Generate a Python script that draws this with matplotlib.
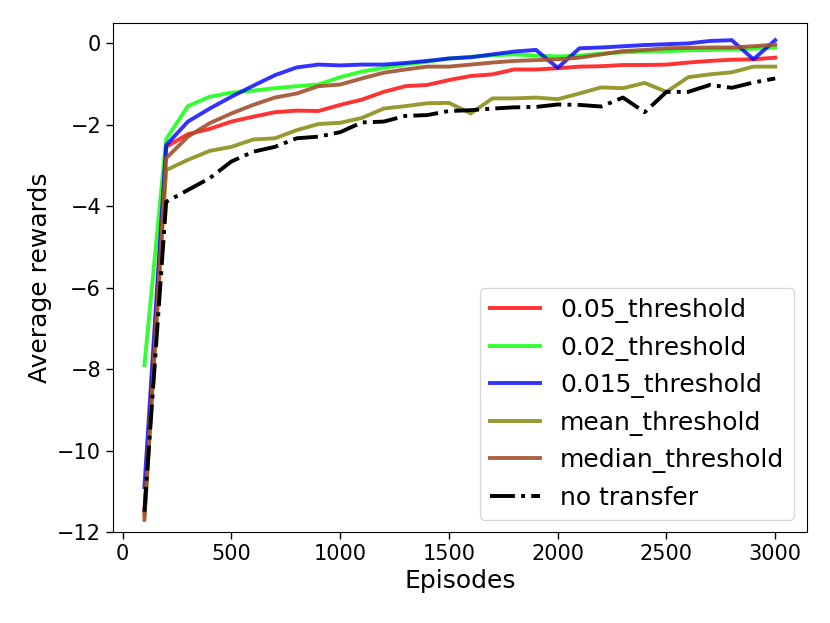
import matplotlib
matplotlib.use("Agg")
import matplotlib.pyplot as plt

episodes = list(range(100, 3001, 100))

r005 = [-11.5, -2.54, -2.23, -2.10, -1.92, -1.80, -1.69, -1.65, -1.66, -1.51,
        -1.38, -1.19, -1.05, -1.02, -0.90, -0.80, -0.76, -0.64, -0.64, -0.61,
        -0.57, -0.56, -0.53, -0.53, -0.52, -0.47, -0.43, -0.40, -0.39, -0.35]
r002 = [-7.9, -2.35, -1.54, -1.31, -1.21, -1.16, -1.10, -1.05, -1.01, -0.83,
        -0.69, -0.60, -0.52, -0.45, -0.37, -0.33, -0.29, -0.27, -0.30, -0.32,
        -0.30, -0.25, -0.22, -0.20, -0.19, -0.17, -0.16, -0.15, -0.13, -0.10]
r0015 = [-10.9, -2.5, -1.92, -1.60, -1.31, -1.04, -0.78, -0.59, -0.52, -0.54,
         -0.52, -0.52, -0.48, -0.43, -0.37, -0.34, -0.27, -0.20, -0.16, -0.60,
         -0.12, -0.10, -0.07, -0.04, -0.02, 0.0, 0.06, 0.08, -0.39, 0.08]
r_mean = [-11.6, -3.11, -2.86, -2.64, -2.54, -2.36, -2.33, -2.13, -1.98, -1.95,
          -1.83, -1.60, -1.54, -1.47, -1.46, -1.72, -1.35, -1.35, -1.33, -1.37,
          -1.23, -1.08, -1.10, -0.97, -1.19, -0.83, -0.76, -0.71, -0.57, -0.57]
r_median = [-11.7, -2.82, -2.29, -1.96, -1.72, -1.51, -1.33, -1.23, -1.05, -1.01,
            -0.86, -0.72, -0.64, -0.57, -0.57, -0.52, -0.47, -0.43, -0.41, -0.39,
            -0.35, -0.27, -0.19, -0.16, -0.12, -0.11, -0.10, -0.10, -0.07, -0.03]
r_none = [-11.5, -3.89, -3.60, -3.31, -2.90, -2.66, -2.54, -2.33, -2.29, -2.18,
          -1.94, -1.92, -1.78, -1.76, -1.66, -1.64, -1.60, -1.57, -1.56, -1.50,
          -1.51, -1.55, -1.33, -1.69, -1.19, -1.19, -1.02, -1.09, -0.96, -0.86]

labels = ["0.05_threshold", "0.02_threshold", "0.015_threshold",
          "mean_threshold", "median_threshold", "no transfer"]

fig = plt.figure(figsize=(8.30, 6.23), dpi=100)
ax = fig.add_axes([0.136, 0.146, 0.836, 0.817])
lw = 2.8
ax.plot(episodes, r005, color="red", alpha=0.8, lw=lw, label=labels[0])
ax.plot(episodes, r002, color="lime", alpha=0.8, lw=lw, label=labels[1])
ax.plot(episodes, r0015, color="blue", alpha=0.8, lw=lw, label=labels[2])
ax.plot(episodes, r_mean, color="olive", alpha=0.8, lw=lw, label=labels[3])
ax.plot(episodes, r_median, color="sienna", alpha=0.9, lw=lw, label=labels[4])
ax.plot(episodes, r_none, color="black", ls="-.", lw=lw, label=labels[5])

ax.set_ylim(-12, 0.5)
ax.set_xticks([0, 500, 1000, 1500, 2000, 2500, 3000])
ax.set_yticks([-12, -10, -8, -6, -4, -2, 0])
ax.tick_params(labelsize=15, length=5, width=1)
ax.set_xlabel("Episodes", fontsize=18)
ax.set_ylabel("Average rewards", fontsize=18)
ax.legend(loc="lower right", fontsize=18)
fig.savefig("out.png", dpi=100)
